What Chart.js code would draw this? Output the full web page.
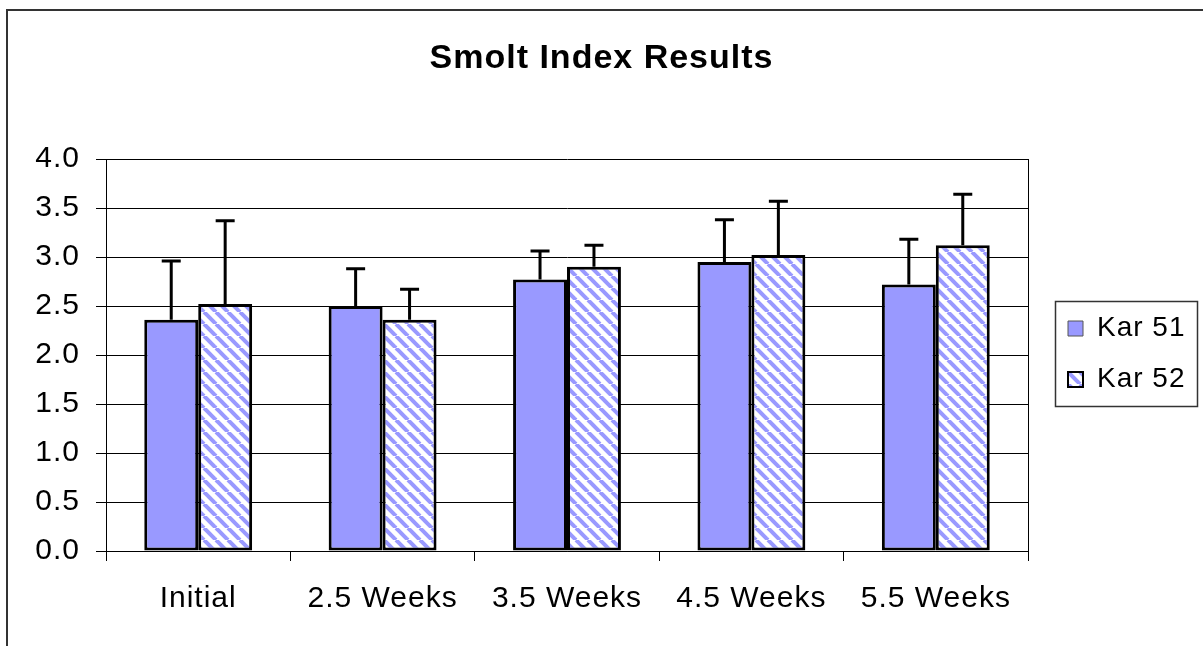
<!DOCTYPE html>
<html>
<head>
<meta charset="utf-8">
<script src="https://cdn.jsdelivr.net/npm/chart.js@4.4.0/dist/chart.umd.min.js"></script>
<style>
  html, body { margin: 0; padding: 0; background: #fff; }
  canvas { display: block; }
</style>
</head>
<body>
<canvas id="myChart" width="1203" height="646"></canvas>
<script>
'use strict'

const categories = ['Initial', '2.5 Weeks', '3.5 Weeks', '4.5 Weeks', '5.5 Weeks'];
const kar51 = [2.36, 2.50, 2.77, 2.95, 2.72];
const kar52 = [2.52, 2.36, 2.90, 3.02, 3.12];
const kar51Err = [0.60, 0.38, 0.29, 0.43, 0.46];
const kar52Err = [0.85, 0.31, 0.22, 0.55, 0.52];
const yTicks = [0, 0.5, 1, 1.5, 2, 2.5, 3, 3.5, 4];

const ctx = document.getElementById('myChart');

Chart.defaults.font.family = "'Liberation Sans', Arial, sans-serif";
Chart.defaults.color = '#000';

function makeHatch(){
    const c = document.createElement('canvas');
    c.width = 12;
    c.height = 12;
    const g = c.getContext('2d');
    g.fillStyle = '#fff';
    g.fillRect(0, 0, 12, 12);
    g.strokeStyle = '#9999ff';
    g.lineWidth = 4;
    for (const k of [-12, 0, 12]) {
        g.beginPath();
        g.moveTo(k, 0);
        g.lineTo(k + 12, 12);
        g.stroke();
    }
    return g.createPattern(c, 'repeat');
}

// Excel draws its text a little wider than canvas does
function spacing(chart){
    chart.ctx.letterSpacing = '1px';
}

const frame = {
    id: 'frame',
    afterInit(chart){
        const legend = chart.legend;
        const fit = legend.fit;
        legend.fit = function(){
            fit.call(this);
            this.width = 175;
        };
    },
    beforeUpdate(chart){ spacing(chart); },
    afterLayout(chart){
        chart.legend.left += 17;
        chart.legend.right += 17;
        chart.legend.top += 31;
        chart.legend.bottom += 31;
    },
    beforeDraw(chart){
        spacing(chart);
        const c = chart.ctx;
        c.save();
        c.strokeStyle = '#333';
        c.lineWidth = 2;
        c.strokeRect(7, 10, 1400, 800);
        c.restore();
    },
    beforeDatasetsDraw(chart){
        const {ctx: c, chartArea: a} = chart;
        c.save();
        c.strokeStyle = '#000';
        c.lineWidth = 1;
        c.beginPath();
        c.moveTo(Math.round(a.right) + 0.5, a.top);
        c.lineTo(Math.round(a.right) + 0.5, a.bottom);
        c.stroke();
        c.restore();
    },
    afterDraw(chart){
        const c = chart.ctx;
        const hb = chart.legend.legendHitBoxes;
        if (!hb || !hb.length) return;
        const last = hb[hb.length - 1];
        const x0 = Math.round(hb[0].left - 13) + 0.5;
        const y0 = Math.round(hb[0].top - 14) + 0.5;
        const y1 = Math.round(last.top + last.height + 12) + 0.5;
        c.save();
        c.strokeStyle = '#333';
        c.lineWidth = 1.5;
        c.strokeRect(x0, y0, 142, y1 - y0);
        c.restore();
    }
};

const errorBars = {
    id: 'errorBars',
    afterDatasetsDraw(chart){
        const {ctx: c, scales: {y}} = chart;
        const errs = [kar51Err, kar52Err];
        c.save();
        c.strokeStyle = '#000';
        c.lineWidth = 3;
        chart.data.datasets.forEach((ds, i) => {
            chart.getDatasetMeta(i).data.forEach((bar, j) => {
                const top = y.getPixelForValue(ds.data[j] + errs[i][j]);
                c.beginPath();
                c.moveTo(bar.x, bar.y);
                c.lineTo(bar.x, top);
                c.moveTo(bar.x - 9.5, top);
                c.lineTo(bar.x + 9.5, top);
                c.stroke();
            });
        });
        c.restore();
    }
};

new Chart(ctx, {
    type: 'bar',
    data: {
        labels: categories,
        datasets: [
            {
                label: 'Kar 51',
                data: kar51,
                backgroundColor: '#9999ff',
                borderColor: '#000',
                borderWidth: 3,
                borderSkipped: false
            },
            {
                label: 'Kar 52',
                data: kar52,
                backgroundColor: makeHatch(),
                borderColor: '#000',
                borderWidth: 3,
                borderSkipped: false
            }
        ]
    },
    options: {
        responsive: false,
        animation: false,
        events: [],
        categoryPercentage: 0.585,
        barPercentage: 1,
        layout: { padding: 0 },
        plugins: {
            title: {
                display: true,
                text: 'Smolt Index Results',
                color: '#000',
                font: { size: 34, weight: 'bold' },
                padding: { top: 38, bottom: 80.2 }
            },
            legend: {
                position: 'right',
                labels: {
                    boxWidth: 15,
                    boxHeight: 15,
                    padding: 23,
                    color: '#000',
                    font: { size: 28 },
                    generateLabels(chart){
                        const items = Chart.defaults.plugins.legend.labels.generateLabels(chart);
                        items[0].strokeStyle = '#555';
                        items[0].lineWidth = 1;
                        items[1].lineWidth = 2;
                        return items;
                    }
                }
            },
            tooltip: { enabled: false }
        },
        scales: {
            x: {
                grid: { drawOnChartArea: false, drawTicks: true, tickLength: 10, color: '#000', offset: true },
                border: { color: '#000' },
                ticks: { padding: 20, color: '#000', font: { size: 30 } },
                afterFit(scale){ scale.height = 95; }
            },
            y: {
                min: 0,
                max: 4,
                afterBuildTicks(scale){
                    scale.ticks = yTicks.map(v => ({ value: v }));
                },
                grid: { color: '#000', tickLength: 10, drawTicks: true },
                border: { color: '#000' },
                ticks: {
                    padding: 16,
                    color: '#000',
                    font: { size: 30 },
                    callback: v => v.toFixed(1)
                },
                afterFit(scale){ scale.width = 106; }
            }
        }
    },
    plugins: [frame, errorBars]
});
</script>
</body>
</html>
